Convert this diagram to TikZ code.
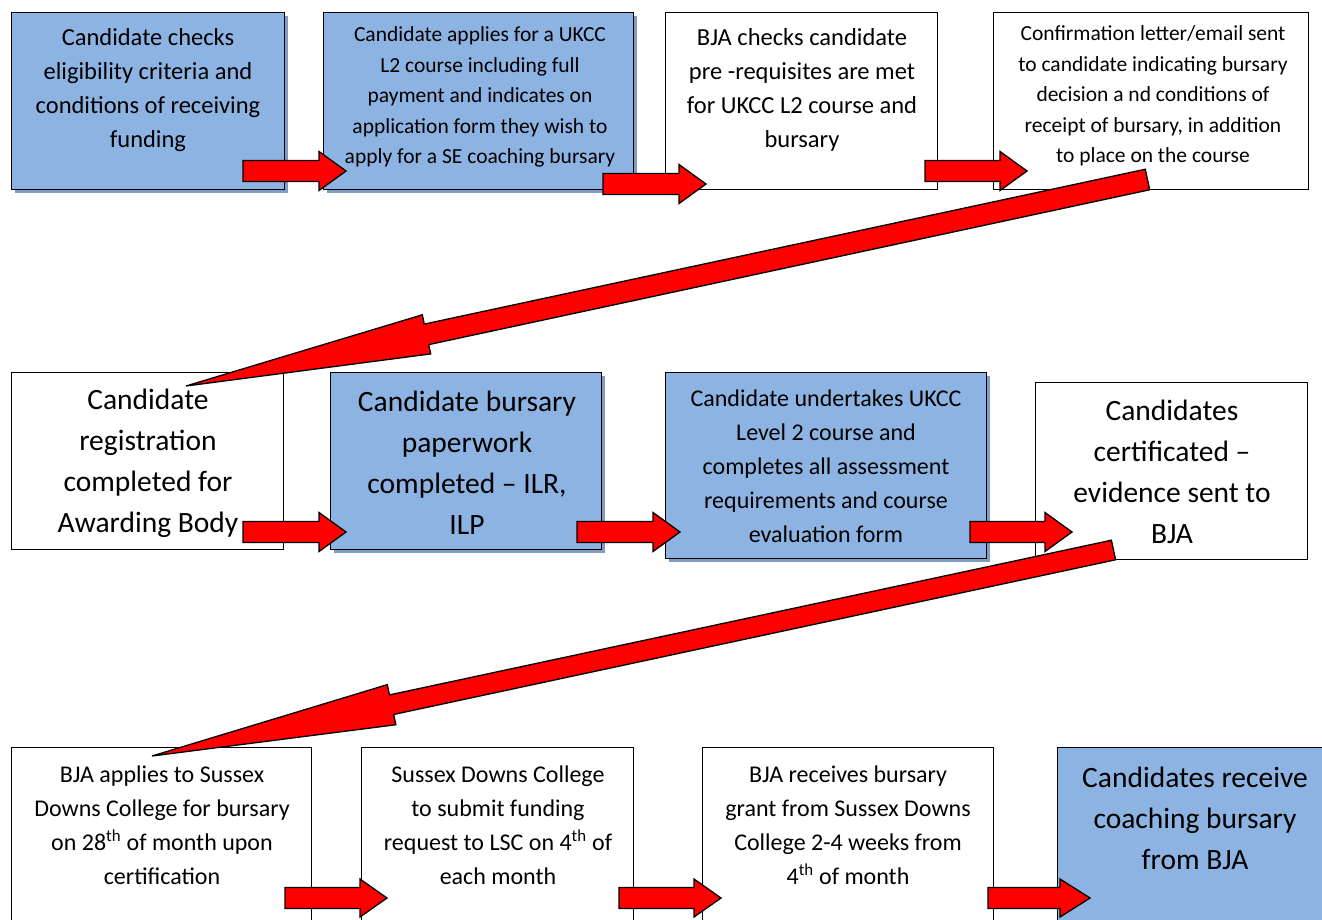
\documentclass[tikz,border=0pt]{standalone}
\usepackage{fontspec}
\setmainfont{Carlito}
\usetikzlibrary{calc,shadows}
\definecolor{boxblue}{HTML}{8DB3E2}
\definecolor{shadowc}{HTML}{7E9CC6}
\tikzset{
  box/.style={draw=black, line width=1.3pt, inner sep=0pt, anchor=north west},
  bluebox/.style={box, fill=boxblue, drop shadow={shadow xshift=3pt, shadow yshift=-3pt, fill=shadowc, opacity=1}},
  whitebox/.style={box, fill=white},
  arr/.style={draw=black, line width=1.3pt, fill=red, line join=miter},
  txt/.style={align=center, inner sep=0pt},
  fsmall/.style={font=\fontsize{21.5}{30.5}\selectfont},
  fmid/.style={font=\fontsize{24.5}{34}\selectfont},
  fmidb/.style={font=\fontsize{24}{34}\selectfont},
  fbig/.style={font=\fontsize{29.5}{41}\selectfont},
}
% name, tail, tip, half shaft, half head, head length
\newcommand{\blockarrow}[6]{%
  \coordinate (#1b) at ($(#3)!#6!(#2)$);
  \draw[arr] ($(#2)!#4!90:(#3)$) -- ($(#1b)!#4!90:(#3)$) -- ($(#1b)!#5!90:(#3)$) -- (#3)
    -- ($(#1b)!#5!-90:(#3)$) -- ($(#1b)!#4!-90:(#3)$) -- ($(#2)!#4!-90:(#3)$) -- cycle;
}
\begin{document}
\begin{tikzpicture}[x=1pt,y=-1pt]
\useasboundingbox (0,0) rectangle (1322,919);
\clip (0,0) rectangle (1322,919);
\fill[white] (0,0) rectangle (1322,919);

% row 1
\node[bluebox, minimum width=273pt, minimum height=177pt] (b1) at (11,12) {};
\node[bluebox, minimum width=310pt, minimum height=177pt] (b2) at (323,12) {};
\node[whitebox, minimum width=272pt, minimum height=177pt] (b3) at (665,12) {};
\node[whitebox, minimum width=315pt, minimum height=177pt] (b4) at (993,12) {};
% row 2
\node[whitebox, minimum width=272pt, minimum height=177pt] (b5) at (11,372) {};
\node[bluebox, minimum width=271pt, minimum height=177pt] (b6) at (330,372) {};
\node[bluebox, minimum width=321pt, minimum height=186pt] (b7) at (665,372) {};
\node[whitebox, minimum width=272pt, minimum height=177pt] (b8) at (1035,382) {};
% row 3
\node[whitebox, minimum width=300pt, minimum height=190pt] (b9) at (11,747) {};
\node[whitebox, minimum width=272pt, minimum height=190pt] (b10) at (361,747) {};
\node[whitebox, minimum width=291pt, minimum height=190pt] (b11) at (702,747) {};
\node[bluebox, minimum width=290pt, minimum height=190pt] (b12) at (1057,747) {};

% texts
\node[txt, fmid] (t1) at (148,90) {Candidate checks\\eligibility criteria and\\conditions of receiving\\funding};
\node[txt, fsmall] (t2) at (480,97) {Candidate applies for a UKCC\\L2 course including full\\payment and indicates on\\application form they wish to\\apply for a SE coaching bursary};
\node[txt, fmid] (t3) at (802,90) {BJA checks candidate\\pre -requisites are met\\for UKCC L2 course and\\bursary};
\node[txt, fsmall] (t4) at (1153,96) {Confirmation letter/email sent\\to candidate indicating bursary\\decision a nd conditions of\\receipt of bursary, in addition\\to place on the course};
\node[txt, fbig] (t5) at (148,463) {Candidate\\registration\\completed for\\Awarding Body};
\node[txt, fbig] (t6) at (467,463) {Candidate bursary\\paperwork\\completed – ILR,\\ILP};
\node[txt, fmidb] (t7) at (826,466) {Candidate undertakes UKCC\\Level 2 course and\\completes all assessment\\requirements and course\\evaluation form};
\node[txt, fbig] (t8) at (1172,472) {Candidates\\certificated –\\evidence sent to\\BJA};
\node[txt, fmidb] (t9) at (162,825) {BJA applies to Sussex\\Downs College for bursary\\on 28\textsuperscript{th} of month upon\\certification};
\node[txt, fmidb] (t10) at (498,825) {Sussex Downs College\\to submit funding\\request to LSC on 4\textsuperscript{th} of\\each month};
\node[txt, fmidb] (t11) at (848,825) {BJA receives bursary\\grant from Sussex Downs\\College 2-4 weeks from\\4\textsuperscript{th} of month};
\node[txt, fbig] (t12) at (1195,818) {Candidates receive\\coaching bursary\\from BJA};

% arrow end points
\coordinate (a1t) at (243,171);  \coordinate (a1h) at (346,171);
\coordinate (a2t) at (603,184);  \coordinate (a2h) at (706,184);
\coordinate (a3t) at (925,171);  \coordinate (a3h) at (1027,171);
\coordinate (a4t) at (243,532);  \coordinate (a4h) at (346,532);
\coordinate (a5t) at (577,532);  \coordinate (a5h) at (680,532);
\coordinate (a6t) at (970,532);  \coordinate (a6h) at (1072,532);
\coordinate (a7t) at (285,898);  \coordinate (a7h) at (387,898);
\coordinate (a8t) at (619,898);  \coordinate (a8h) at (721,898);
\coordinate (a9t) at (988,898);  \coordinate (a9h) at (1090,898);
\coordinate (d1t) at (1147.5,179.5); \coordinate (d1h) at (186,386);
\coordinate (d2t) at (1113.5,550);   \coordinate (d2h) at (152,756);

\blockarrow{a1}{a1t}{a1h}{10.5pt}{19.5pt}{27pt}
\blockarrow{a2}{a2t}{a2h}{10.5pt}{19.5pt}{27pt}
\blockarrow{a3}{a3t}{a3h}{10.5pt}{19.5pt}{27pt}
\blockarrow{a4}{a4t}{a4h}{10.5pt}{19.5pt}{27pt}
\blockarrow{a5}{a5t}{a5h}{10.5pt}{19.5pt}{27pt}
\blockarrow{a6}{a6t}{a6h}{10.5pt}{19.5pt}{27pt}
\blockarrow{a7}{a7t}{a7h}{10.5pt}{19pt}{27pt}
\blockarrow{a8}{a8t}{a8h}{10.5pt}{19pt}{27pt}
\blockarrow{a9}{a9t}{a9h}{10.5pt}{19pt}{30pt}
\blockarrow{d1}{d1t}{d1h}{10.5pt}{20pt}{246pt}
\blockarrow{d2}{d2t}{d2h}{10pt}{20.5pt}{245pt}
\end{tikzpicture}
\end{document}
